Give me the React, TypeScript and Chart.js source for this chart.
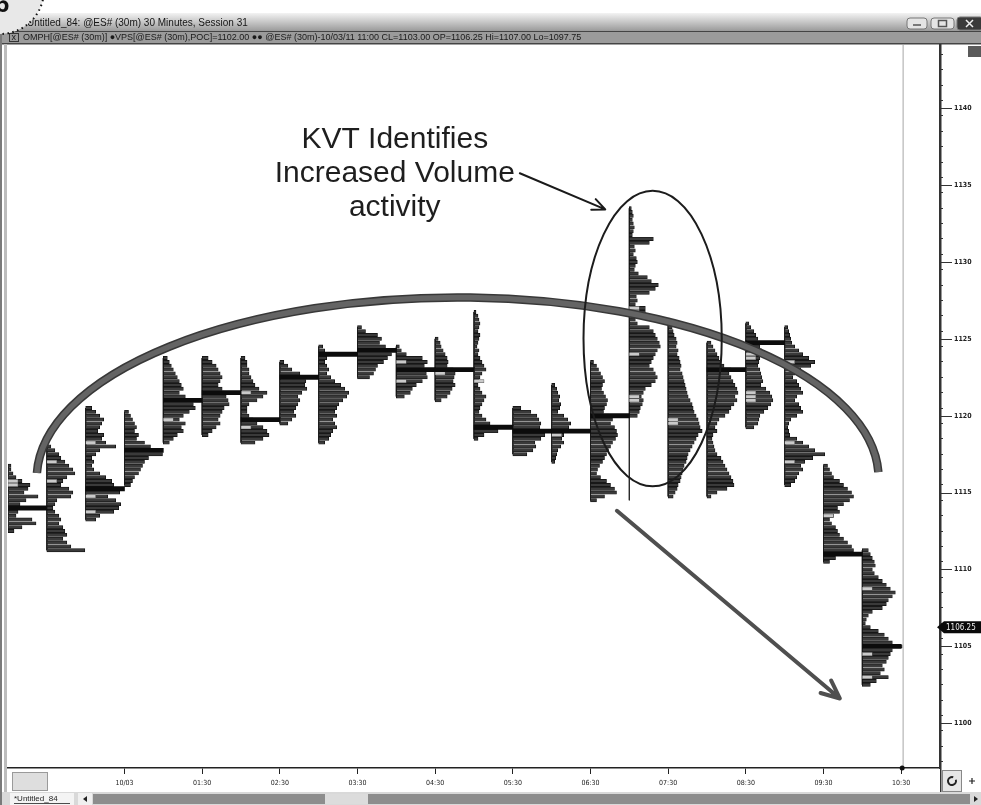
import React, { useEffect, useRef } from 'react';
import { Chart, registerables } from 'chart.js';

Chart.register(...registerables);

// ---------------- axis data ----------------
const X_TICKS = [0.5, 1.5, 2.5, 3.5, 4.5, 5.5, 6.5, 7.5, 8.5, 9.5, 10.5];
const X_LABELS = ['10/03', '01:30', '02:30', '03:30', '04:30', '05:30', '06:30', '07:30', '08:30', '09:30', '10:30'];
const Y_TICK_FIRST = 1098;
const Y_TICK_LAST = 1143;
const TIME_MIN = -1;
const TIME_MAX = 11;
const PRICE_MIN = 1097.6;
const PRICE_MAX = 1143.6;
const TICK_SIZE = 0.25;
const LAST_PRICE = 1106.25;

// ---------------- 30-minute volume profiles ----------------
// start of each 30-minute bar, in hours from midnight 10/03
const PROFILE_START = [-1, -0.5, 0, 0.5, 1, 1.5, 2, 2.5, 3, 3.5, 4, 4.5, 5, 5.5, 6, 6.5, 7, 7.5, 8, 8.5, 9, 9.5, 10];
// price of the top row of each profile
const PROFILE_HIGH = [1116.75, 1118.0, 1120.5, 1120.25, 1123.75, 1123.75, 1123.75, 1123.5, 1124.5, 1125.75, 1124.5, 1125.0, 1126.75, 1120.5, 1122.0, 1123.5, 1133.5, 1126.25, 1124.75, 1126.0, 1125.75, 1116.75, 1111.25];
// low of each bar (range line)
const PROFILE_LOW = [1112.5, 1111.25, 1113.25, 1115.5, 1118.25, 1118.75, 1118.25, 1119.5, 1118.25, 1122.5, 1121.25, 1121.0, 1118.5, 1117.5, 1117.0, 1114.5, 1114.5, 1114.75, 1114.75, 1119.25, 1115.5, 1110.5, 1102.5];
// point of control (null = none drawn)
const PROFILE_POC = [1114.0, null, 1115.25, 1117.75, 1121.0, 1121.5, 1119.75, 1122.5, 1124.0, 1124.25, 1123.0, 1123.0, 1119.25, 1119.0, 1119.0, 1120.0, null, null, 1123.0, 1124.75, null, 1111.0, 1105.0];

// volume per 0.25 price row, top row first
const VP_2300 = [3, 3, 5, 8, 14, 22, 20, 16, 30, 18, 12, 36, 10, 8, 24, 28, 14, 6];
const VP_2330 = [4, 8, 12, 14, 18, 22, 26, 28, 20, 16, 14, 22, 26, 24, 10, 8, 6, 8, 12, 14, 12, 16, 18, 20, 16, 20, 24, 38];
const VP_0000 = [6, 10, 14, 18, 16, 14, 12, 18, 16, 20, 30, 14, 10, 6, 8, 6, 8, 14, 20, 26, 28, 24, 34, 22, 30, 35, 33, 28, 14, 10];
const VP_0030 = [4, 6, 8, 10, 12, 10, 14, 12, 20, 26, 30, 38, 24, 20, 18, 16, 14, 10, 8, 6];
const VP_0100 = [4, 6, 8, 10, 12, 14, 16, 18, 20, 16, 22, 24, 30, 32, 26, 20, 16, 22, 18, 20, 14, 10, 6];
const VP_0130 = [6, 10, 14, 16, 18, 20, 18, 16, 20, 22, 24, 26, 27, 22, 20, 18, 16, 18, 14, 10, 6];
const VP_0200 = [4, 6, 6, 8, 8, 10, 12, 14, 18, 26, 22, 16, 8, 6, 6, 8, 12, 16, 22, 26, 28, 22, 14];
const VP_0230 = [4, 8, 12, 20, 24, 26, 25, 27, 22, 18, 20, 18, 16, 14, 16, 12, 8];
const VP_0300 = [4, 6, 10, 8, 6, 8, 10, 8, 12, 16, 22, 26, 30, 28, 24, 20, 18, 16, 18, 14, 16, 18, 14, 12, 10, 6];
const VP_0330 = [4, 8, 20, 24, 22, 28, 32, 34, 30, 26, 20, 18, 16, 12];
const VP_0400 = [3, 5, 10, 26, 31, 28, 24, 30, 31, 26, 20, 16, 14, 8];
const VP_0430 = [3, 5, 6, 8, 10, 12, 13, 12, 18, 20, 19, 18, 20, 17, 15, 12, 6];
const VP_0500 = [2, 4, 5, 6, 5, 4, 6, 5, 4, 3, 5, 4, 6, 8, 10, 12, 8, 6, 5, 4, 6, 8, 12, 10, 8, 6, 5, 8, 12, 16, 20, 24, 10, 4];
const VP_0530 = [8, 18, 24, 26, 28, 27, 30, 32, 28, 22, 23, 20, 14];
const VP_0600 = [3, 5, 6, 8, 7, 9, 8, 6, 12, 16, 19, 17, 14, 12, 10, 12, 9, 6, 5, 4, 3];
const VP_0630 = [3, 6, 8, 10, 12, 14, 12, 11, 13, 15, 17, 16, 14, 13, 18, 22, 20, 24, 26, 27, 25, 22, 20, 18, 16, 14, 12, 9, 7, 6, 10, 16, 20, 24, 26, 14, 6];
const VP_0700 = [2, 3, 4, 3, 4, 5, 4, 3, 24, 20, 5, 6, 4, 7, 8, 6, 5, 9, 18, 22, 29, 26, 20, 7, 8, 6, 16, 16, 10, 6, 8, 20, 24, 26, 28, 30, 31, 28, 26, 24, 22, 20, 24, 26, 28, 26, 22, 16, 14, 12, 14, 13, 11, 10, 8];
const VP_0730 = [2, 3, 4, 5, 6, 8, 9, 8, 10, 9, 11, 12, 13, 12, 14, 15, 16, 17, 18, 19, 20, 22, 24, 25, 26, 28, 30, 31, 32, 34, 30, 28, 26, 24, 22, 20, 19, 18, 16, 15, 14, 13, 12, 10, 9, 7, 5];
const VP_0800 = [4, 6, 8, 10, 12, 14, 17, 24, 22, 24, 26, 28, 30, 31, 28, 30, 27, 24, 22, 18, 12, 10, 8, 10, 6, 5, 6, 7, 8, 10, 14, 16, 18, 20, 22, 24, 26, 27, 20, 10, 4];
const VP_0830 = [3, 5, 8, 10, 12, 24, 14, 16, 15, 14, 13, 12, 14, 15, 16, 17, 15, 20, 24, 26, 27, 25, 22, 18, 14, 13, 12, 8];
const VP_0900 = [3, 4, 5, 6, 7, 10, 14, 18, 24, 30, 26, 16, 10, 8, 12, 14, 16, 18, 12, 10, 14, 16, 18, 12, 6, 4, 3, 4, 5, 12, 18, 24, 30, 40, 28, 20, 16, 18, 14, 12, 10, 6];
const VP_0930 = [4, 6, 8, 10, 16, 20, 24, 28, 30, 26, 20, 14, 16, 10, 6, 8, 12, 14, 16, 20, 24, 28, 30, 38, 12, 6];
const VP_1000 = [6, 8, 10, 12, 13, 10, 12, 16, 20, 24, 28, 33, 30, 26, 24, 20, 10, 6, 4, 3, 8, 16, 22, 26, 30, 40, 30, 28, 26, 24, 20, 22, 18, 26, 14, 8];

const PROFILES = [VP_2300, VP_2330, VP_0000, VP_0030, VP_0100, VP_0130, VP_0200, VP_0230, VP_0300, VP_0330, VP_0400, VP_0430, VP_0500, VP_0530, VP_0600, VP_0630, VP_0700, VP_0730, VP_0800, VP_0830, VP_0900, VP_0930, VP_1000];

// light value-area markers (prices)
const VA_MARKS = [
  [1115.75, 1115.5], [1117.0, 1115.75], [1118.25, 1114.75, 1113.75], [], [1119.75], [1121.5],
  [1121.5, 1119.25], [], [1124.0], [], [1123.5, 1123.0, 1122.25], [1123.0, 1122.75], [1122.25],
  [], [1118.75], [], [1127.0, 1126.75, 1124.0, 1121.25, 1121.0], [1119.75, 1119.5], [1123.0],
  [1124.0, 1123.75, 1121.5, 1121.25, 1121.0], [1123.5, 1118.25, 1117.0], [1113.5],
  [1108.75, 1105.0, 1104.5, 1103.0],
];

// ---------------- scaling / annotation anchors (data units) ----------------
const VOLUME_PER_HOUR = 77.67;
const MARK_VOLUME = 10;
const SLOT = 0.5;
const NOTE_LINES = ['KVT Identifies', 'Increased Volume', 'activity'];
const NOTE_T = 3.98;
const NOTE_P = [1137.94, 1135.77, 1133.55];
const NOTE_ARROW = { t1: 5.59, p1: 1135.77, t2: 6.69, p2: 1133.42 };
const FOCUS = { t: 7.30, p: 1125.02, rt: 0.89, rp: 9.61 };
const ROUND_TOP = { t: 4.79, p: 1115.92, rt: 5.42, rp: 11.77 };
const DOWN_ARROW = { t1: 6.84, p1: 1113.82, t2: 9.71, p2: 1101.61 };

const TITLE = 'Untitled_84: @ES# (30m) 30 Minutes, Session 31';
const STATUS = 'OMPH[@ES# (30m)] \u25CFVPS[@ES# (30m),POC]=1102.00 \u25CF\u25CF @ES# (30m)-10/03/11 11:00 CL=1103.00 OP=1106.25 Hi=1107.00 Lo=1097.75';

function buildData() {
  const volume: any[] = [];
  const marks: any[] = [];
  const pocs: any[] = [];
  const wicks: any[] = [];
  PROFILES.forEach((rows, k) => {
    const t = PROFILE_START[k];
    rows.forEach((v, i) => {
      volume.push({ y: PROFILE_HIGH[k] - i * TICK_SIZE, x: [t, t + v / VOLUME_PER_HOUR] });
    });
    VA_MARKS[k].forEach((p) => marks.push({ y: p, x: [t, t + MARK_VOLUME / VOLUME_PER_HOUR] }));
    const poc = PROFILE_POC[k];
    if (poc !== null) pocs.push({ y: poc, x: [t, t + SLOT] });
    wicks.push({ x: t, y: PROFILE_HIGH[k] }, { x: t, y: PROFILE_LOW[k] }, { x: t, y: null });
  });
  return { volume, marks, pocs, wicks };
}

function drawArrow(ctx: CanvasRenderingContext2D, x1: number, y1: number, x2: number, y2: number, head: number, width: number, color: string) {
  const a = Math.atan2(y2 - y1, x2 - x1);
  ctx.beginPath();
  ctx.moveTo(x1, y1);
  ctx.lineTo(x2, y2);
  ctx.moveTo(x2 - head * Math.cos(a - 0.42), y2 - head * Math.sin(a - 0.42));
  ctx.lineTo(x2, y2);
  ctx.lineTo(x2 - head * Math.cos(a + 0.42), y2 - head * Math.sin(a + 0.42));
  ctx.strokeStyle = color;
  ctx.lineWidth = width;
  ctx.lineCap = 'round';
  ctx.lineJoin = 'round';
  ctx.stroke();
}

function roundRect(ctx: CanvasRenderingContext2D, x: number, y: number, w: number, h: number, r: number) {
  ctx.beginPath();
  ctx.moveTo(x + r, y);
  ctx.arcTo(x + w, y, x + w, y + h, r);
  ctx.arcTo(x + w, y + h, x, y + h, r);
  ctx.arcTo(x, y + h, x, y, r);
  ctx.arcTo(x, y, x + w, y, r);
  ctx.closePath();
}

const chromePlugin = {
  id: 'chrome',
  beforeDraw(chart: any) {
    const { ctx, width, height } = chart;
    ctx.save();
    ctx.fillStyle = '#ffffff';
    ctx.fillRect(0, 0, width, height);
    // title bar
    const g = ctx.createLinearGradient(0, 13, 0, 31);
    g.addColorStop(0, '#f3f3f3');
    g.addColorStop(1, '#9a9a9a');
    ctx.fillStyle = g;
    ctx.fillRect(0, 13, width, 18);
    // status bar
    ctx.fillStyle = '#9b9b9b';
    ctx.fillRect(0, 31, width, 12);
    ctx.fillStyle = '#444';
    ctx.fillRect(0, 31, width, 1);
    ctx.fillRect(0, 43, width, 1.5);
    // left frame
    ctx.fillStyle = '#7a7a7a';
    ctx.fillRect(0, 31, 2, height - 31);
    ctx.fillStyle = '#bdbdbd';
    ctx.fillRect(4, 44, 3, 749);
    // title text
    ctx.fillStyle = '#151515';
    ctx.font = '10px "Liberation Sans", Arial, sans-serif';
    ctx.textBaseline = 'middle';
    ctx.textAlign = 'left';
    ctx.fillText(TITLE, 27, 23.5, 222);
    // status text
    ctx.strokeStyle = '#333';
    ctx.lineWidth = 1;
    ctx.strokeRect(9.5, 33.5, 9, 8);
    ctx.font = '9px "Liberation Sans", Arial, sans-serif';
    ctx.fillStyle = '#1a1a1a';
    ctx.fillText('x', 11.5, 37.5);
    ctx.fillText(STATUS, 23, 37.5, 609);
    // window buttons
    [[907, 18, 20, 11, '#e4e4e4'], [931, 18, 23, 11, '#e4e4e4'], [957, 17, 26, 13, '#3a3a3a']].forEach(([x, y, w, h, c]: any) => {
      roundRect(ctx, x, y, w, h, 3);
      ctx.fillStyle = c;
      ctx.fill();
      ctx.strokeStyle = '#777';
      ctx.stroke();
    });
    ctx.strokeStyle = '#555';
    ctx.lineWidth = 1.5;
    ctx.beginPath();
    ctx.moveTo(913, 25); ctx.lineTo(921, 25);
    ctx.stroke();
    ctx.strokeRect(938.5, 20.5, 8, 6);
    ctx.strokeStyle = '#eee';
    ctx.beginPath();
    ctx.moveTo(966, 20); ctx.lineTo(973, 27); ctx.moveTo(973, 20); ctx.lineTo(966, 27);
    ctx.stroke();
    // page corner badge
    ctx.beginPath();
    ctx.arc(0, -10, 44, 0, Math.PI * 2);
    ctx.fillStyle = '#e8e8e8';
    ctx.fill();
    ctx.setLineDash([1.5, 3.5]);
    ctx.lineWidth = 2;
    ctx.strokeStyle = '#111';
    ctx.stroke();
    ctx.setLineDash([]);
    ctx.fillStyle = '#111';
    ctx.font = 'bold 26px "Liberation Sans", Arial, sans-serif';
    ctx.textBaseline = 'alphabetic';
    ctx.fillText('6', -5, 12);
    ctx.restore();
  },
  afterDraw(chart: any) {
    const { ctx, width } = chart;
    const ys = chart.scales.y;
    const area = chart.chartArea;
    ctx.save();
    // right axis line extension and major ticks
    ctx.strokeStyle = '#333';
    ctx.lineWidth = 1.5;
    ctx.beginPath();
    ctx.moveTo(area.right + 0.75, 44);
    ctx.lineTo(area.right + 0.75, 793);
    ctx.stroke();
    ctx.lineWidth = 1;
    for (let v = 1100; v <= 1140; v += 5) {
      const y = Math.round(ys.getPixelForValue(v)) + 0.5;
      ctx.beginPath();
      ctx.moveTo(area.right, y);
      ctx.lineTo(area.right + 12, y);
      ctx.stroke();
    }
    // top-right box
    ctx.fillStyle = '#5a5a5a';
    ctx.fillRect(968, 46, 13, 11);
    // last price tag
    const yp = ys.getPixelForValue(LAST_PRICE);
    ctx.fillStyle = '#0a0a0a';
    ctx.beginPath();
    ctx.moveTo(area.right - 3, yp);
    ctx.lineTo(area.right + 4, yp - 6);
    ctx.lineTo(width, yp - 6);
    ctx.lineTo(width, yp + 6);
    ctx.lineTo(area.right + 4, yp + 6);
    ctx.closePath();
    ctx.fill();
    ctx.fillStyle = '#f0f0f0';
    ctx.font = '8px "DejaVu Sans Condensed", "DejaVu Sans", sans-serif';
    ctx.textBaseline = 'middle';
    ctx.textAlign = 'left';
    ctx.fillText(LAST_PRICE.toFixed(2), area.right + 6, yp + 0.5);
    // bottom-left box
    ctx.fillStyle = '#dedede';
    ctx.fillRect(12, 772, 35, 18);
    ctx.strokeStyle = '#9a9a9a';
    ctx.lineWidth = 1;
    ctx.strokeRect(12.5, 772.5, 35, 18);
    // bottom-right buttons
    ctx.fillStyle = '#e6e6e6';
    ctx.fillRect(942, 770, 19, 21);
    ctx.strokeStyle = '#888';
    ctx.strokeRect(942.5, 770.5, 19, 21);
    ctx.strokeStyle = '#222';
    ctx.lineWidth = 2;
    ctx.beginPath();
    ctx.arc(952, 781, 4, -0.3, Math.PI * 1.6);
    ctx.stroke();
    ctx.lineWidth = 1.2;
    ctx.beginPath();
    ctx.moveTo(969, 781); ctx.lineTo(975, 781); ctx.moveTo(972, 778); ctx.lineTo(972, 784);
    ctx.stroke();
    // scroll row
    ctx.fillStyle = '#d9d9d9';
    ctx.fillRect(2, 792, width - 2, 13);
    ctx.fillStyle = '#f4f4f4';
    ctx.fillRect(10, 793, 64, 12);
    ctx.fillStyle = '#222';
    ctx.font = '8px "Liberation Sans", Arial, sans-serif';
    ctx.fillText('*Untitled_84', 14, 799, 56);
    ctx.fillRect(14, 803, 56, 0.8);
    ctx.fillStyle = '#f0f0f0';
    ctx.fillRect(78, 793, 14, 12);
    ctx.fillStyle = '#222';
    ctx.beginPath();
    ctx.moveTo(83, 799); ctx.lineTo(87, 796); ctx.lineTo(87, 802); ctx.closePath();
    ctx.fill();
    ctx.fillStyle = '#8d8d8d';
    ctx.fillRect(93, 794, 877, 10);
    ctx.fillStyle = '#dcdcdc';
    ctx.fillRect(325, 794, 43, 10);
    ctx.fillStyle = '#222';
    ctx.beginPath();
    ctx.moveTo(978, 799); ctx.lineTo(974, 796); ctx.lineTo(974, 802); ctx.closePath();
    ctx.fill();
    ctx.restore();
  },
};

const annotationPlugin = {
  id: 'notes',
  afterDatasetsDraw(chart: any) {
    const { ctx } = chart;
    const xs = chart.scales.x;
    const ys = chart.scales.y;
    const px = (t: number) => xs.getPixelForValue(t);
    const py = (p: number) => ys.getPixelForValue(p);
    const area = chart.chartArea;
    ctx.save();
    // current bar line
    ctx.strokeStyle = '#c4c4c4';
    ctx.lineWidth = 1.5;
    ctx.beginPath();
    ctx.moveTo(px(10.5) + 2, area.top);
    ctx.lineTo(px(10.5) + 2, area.bottom);
    ctx.stroke();
    ctx.fillStyle = '#111';
    ctx.beginPath();
    ctx.arc(px(10.5) + 1, area.bottom, 2.5, 0, Math.PI * 2);
    ctx.fill();
    // rounding-top arc
    const cx = px(ROUND_TOP.t);
    const cy = py(ROUND_TOP.p);
    const rx = px(ROUND_TOP.t + ROUND_TOP.rt) - cx;
    const ry = py(ROUND_TOP.p) - py(ROUND_TOP.p + ROUND_TOP.rp);
    ctx.beginPath();
    ctx.ellipse(cx, cy, rx, ry, 0, Math.PI + 0.03, Math.PI * 2 - 0.035);
    ctx.lineCap = 'butt';
    ctx.strokeStyle = '#383838';
    ctx.lineWidth = 8.5;
    ctx.stroke();
    ctx.strokeStyle = '#646464';
    ctx.lineWidth = 5.5;
    ctx.stroke();
    // focus ellipse
    const fx = px(FOCUS.t);
    const fy = py(FOCUS.p);
    ctx.beginPath();
    ctx.ellipse(fx, fy, px(FOCUS.t + FOCUS.rt) - fx, py(FOCUS.p) - py(FOCUS.p + FOCUS.rp), 0, 0, Math.PI * 2);
    ctx.strokeStyle = '#1c1c1c';
    ctx.lineWidth = 2;
    ctx.stroke();
    // note text
    ctx.fillStyle = '#1e1e1e';
    ctx.font = '30px "Liberation Sans", Arial, sans-serif';
    ctx.textAlign = 'center';
    ctx.textBaseline = 'middle';
    NOTE_LINES.forEach((s, i) => ctx.fillText(s, px(NOTE_T), py(NOTE_P[i])));
    // arrows
    drawArrow(ctx, px(NOTE_ARROW.t1), py(NOTE_ARROW.p1), px(NOTE_ARROW.t2), py(NOTE_ARROW.p2), 14, 2, '#1a1a1a');
    drawArrow(ctx, px(DOWN_ARROW.t1), py(DOWN_ARROW.p1), px(DOWN_ARROW.t2), py(DOWN_ARROW.p2), 20, 4, '#4f4f4f');
    ctx.restore();
  },
};

export default function App() {
  const canvasRef = useRef<HTMLCanvasElement | null>(null);

  useEffect(() => {
    const canvas = canvasRef.current;
    if (!canvas) return;
    const { volume, marks, pocs, wicks } = buildData();
    const axisFont = { family: '"DejaVu Sans Condensed", "DejaVu Sans", sans-serif', size: 7 };
    const yFont = { family: '"DejaVu Sans Condensed", "DejaVu Sans", sans-serif', size: 7, weight: 'bold' };
    const yTicks: number[] = [];
    for (let v = Y_TICK_FIRST; v <= Y_TICK_LAST; v += 1) yTicks.push(v);
    const chart = new Chart(canvas, {
      type: 'bar',
      data: {
        datasets: [
          {
            label: 'POC',
            data: pocs,
            backgroundColor: '#0c0c0c',
            borderWidth: 0,
            grouped: false,
            barThickness: 4.2,
            borderSkipped: false,
          } as any,
          {
            label: 'Value area',
            data: marks,
            backgroundColor: '#cacaca',
            borderColor: '#555',
            borderWidth: 0.6,
            grouped: false,
            barThickness: 3.3,
            borderSkipped: false,
          } as any,
          {
            label: 'Volume',
            data: volume,
            backgroundColor: '#3a3a3a',
            borderColor: '#0e0e0e',
            borderWidth: 0.7,
            grouped: false,
            barThickness: 3.3,
            borderSkipped: false,
          } as any,
          {
            type: 'line',
            label: 'Range',
            data: wicks,
            borderColor: '#2a2a2a',
            borderWidth: 1,
            pointRadius: 0,
            spanGaps: false,
          } as any,
        ],
      },
      options: {
        indexAxis: 'y',
        animation: false,
        responsive: true,
        maintainAspectRatio: false,
        events: [],
        layout: { padding: { left: 8, top: 45, right: 0, bottom: 12 } },
        plugins: { legend: { display: false }, tooltip: { enabled: false } },
        scales: {
          x: {
            type: 'linear',
            position: 'bottom',
            min: TIME_MIN,
            max: TIME_MAX,
            afterBuildTicks: (s: any) => {
              s.ticks = X_TICKS.map((v) => ({ value: v }));
            },
            afterFit: (s: any) => {
              s.height = 25;
            },
            ticks: {
              autoSkip: false,
              maxRotation: 0,
              padding: 5,
              color: '#222',
              font: axisFont,
              callback: (v: any) => {
                const i = X_TICKS.indexOf(Number(v));
                return i >= 0 ? X_LABELS[i] : '';
              },
            },
            grid: { drawOnChartArea: false, drawTicks: true, tickLength: 6, color: '#222' },
            border: { display: true, color: '#222', width: 1.5 },
          },
          y: {
            type: 'linear',
            position: 'right',
            min: PRICE_MIN,
            max: PRICE_MAX,
            afterBuildTicks: (s: any) => {
              s.ticks = yTicks.map((v) => ({ value: v }));
            },
            afterFit: (s: any) => {
              s.width = 41;
            },
            ticks: {
              autoSkip: false,
              padding: 11,
              color: '#222',
              font: yFont,
              callback: (v: any) => {
                const n = Math.round(Number(v));
                return n % 5 === 0 ? String(n) : '';
              },
            },
            grid: { drawOnChartArea: false, drawTicks: true, tickLength: 3, color: '#333' },
            border: { display: true, color: '#333', width: 1.5 },
          },
        },
      } as any,
      plugins: [chromePlugin, annotationPlugin],
    });
    return () => chart.destroy();
  }, []);

  return (
    <div style={{ position: 'absolute', left: 0, top: 0, width: 981, height: 805, overflow: 'hidden' }}>
      <canvas ref={canvasRef} />
    </div>
  );
}
